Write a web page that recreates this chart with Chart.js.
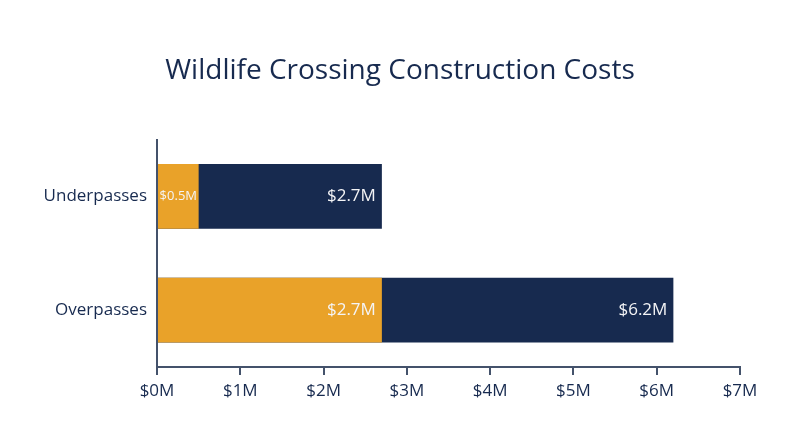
<!DOCTYPE html>
<html>
<head>
<meta charset="utf-8">
<script src="https://cdn.jsdelivr.net/npm/chart.js@4.4.0/dist/chart.umd.min.js"></script>
<style>
  html, body { margin: 0; padding: 0; background: #ffffff; }
  #wrap { width: 800px; height: 447px; }
</style>
</head>
<body>
<div id="wrap"><canvas id="chart"></canvas></div>
<script>
// Datos del gráfico (millones de dólares)
const categories = ['Underpasses', 'Overpasses'];
const lowCost = [0.5, 2.7];
const highCost = [2.7, 6.2];
const tickLabels = ['$0M', '$1M', '$2M', '$3M', '$4M', '$5M', '$6M', '$7M'];

const navy = '#172a4f';
const orange = '#e9a229';
const axisColor = '#44526b';
const fontFamily = "'Open Sans', 'Noto Sans', sans-serif";

// Etiquetas de valor dentro de cada barra, alineadas al final
const barLabels = {
  id: 'barLabels',
  afterDatasetsDraw(chart) {
    const ctx = chart.ctx;
    ctx.save();
    ctx.textBaseline = 'middle';
    chart.data.datasets.forEach((ds, di) => {
      const meta = chart.getDatasetMeta(di);
      meta.data.forEach((bar, i) => {
        const value = ds.data[i];
        const width = Math.abs(bar.x - bar.base);
        const small = width < 60;
        ctx.font = (small ? '13px ' : '17px ') + fontFamily;
        ctx.fillStyle = '#f4f4f6';
        const text = '$' + value.toFixed(1) + 'M';
        if (small) {
          ctx.textAlign = 'center';
          ctx.fillText(text, (bar.x + bar.base) / 2, bar.y);
        } else {
          ctx.textAlign = 'right';
          ctx.fillText(text, bar.x - 6, bar.y);
        }
      });
    });
    ctx.restore();
  }
};

new Chart(document.getElementById('chart').getContext('2d'), {
  type: 'bar',
  data: {
    labels: categories,
    datasets: [
      {
        label: 'Low estimate',
        data: lowCost,
        backgroundColor: orange,
        grouped: false,
        barPercentage: 0.57,
        categoryPercentage: 1.0,
      },
      {
        label: 'High estimate',
        data: highCost,
        backgroundColor: navy,
        grouped: false,
        barPercentage: 0.57,
        categoryPercentage: 1.0,
      },
    ],
  },
  options: {
    indexAxis: 'y',
    responsive: true,
    maintainAspectRatio: false,
    animation: false,
    layout: { padding: 0 },
    plugins: {
      legend: { display: false },
      tooltip: { enabled: false },
      title: {
        display: true,
        text: 'Wildlife Crossing Construction Costs',
        color: navy,
        font: { family: fontFamily, size: 28, weight: '400' },
        padding: { top: 54, bottom: 52 },
      },
    },
    scales: {
      x: {
        min: 0,
        max: 7,
        afterFit(scale) {
          scale.height = 80;
          scale.paddingRight = 60;
        },
        ticks: {
          stepSize: 1,
          color: navy,
          padding: 6,
          font: { family: fontFamily, size: 17 },
          callback: (v, i) => tickLabels[i],
        },
        grid: {
          drawOnChartArea: false,
          drawTicks: true,
          tickLength: 8,
          color: axisColor,
          lineWidth: 2,
        },
        border: { display: true, color: axisColor, width: 2 },
      },
      y: {
        afterFit(scale) { scale.width = 157; },
        ticks: {
          color: navy,
          padding: 10,
          font: { family: fontFamily, size: 17 },
        },
        grid: { display: false, drawTicks: false },
        border: { display: true, color: axisColor, width: 2 },
      },
    },
  },
  plugins: [barLabels],
});
</script>
</body>
</html>
